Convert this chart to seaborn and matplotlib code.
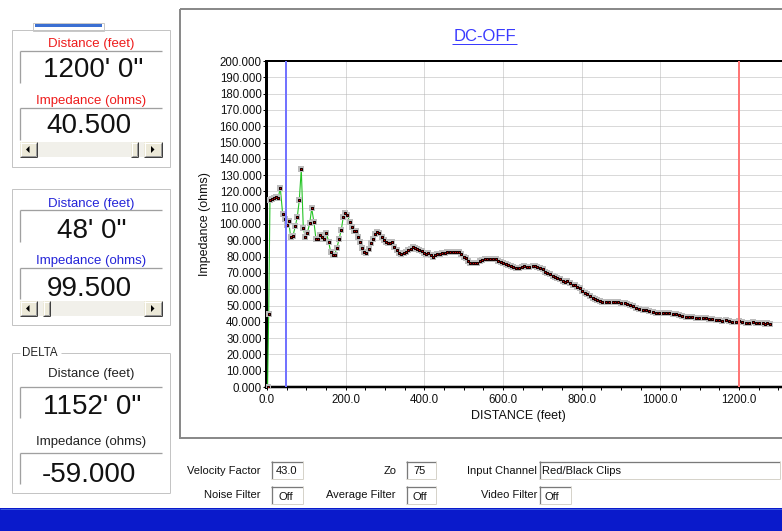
import matplotlib
matplotlib.use("Agg")
import matplotlib.pyplot as plt
import pandas as pd
import seaborn as sns
from matplotlib.patches import Rectangle, Polygon
from matplotlib.ticker import MultipleLocator

# ---------------- data ----------------
distance_ft = [
    1.5, 4.3, 7.6, 12.7, 17.8, 23.6, 28.7, 33.8, 39.9, 45.0, 50.1, 55.2, 60.3, 66.1, 72.0, 77.0,
    82.1, 87.2, 92.3, 97.4, 102.5, 108.6, 113.7, 119.5, 124.6, 129.7, 134.8, 140.6, 145.7, 150.8,
    156.9, 162.0, 167.0, 172.1, 178.0, 183.1, 189.0, 194.0, 199.1, 204.2, 210.3, 215.4, 220.4,
    225.5, 230.6, 236.5, 241.5, 246.6, 251.7,
    259, 264, 270, 275, 280, 285.5, 291.5, 297, 302, 308, 314, 319, 324, 331, 336, 342, 348, 353,
    359, 365, 370, 376, 382, 387, 393, 399, 404, 410, 416, 421, 427, 433, 439, 445, 452, 458, 465,
    472, 477.5, 483.5, 488.5, 494.5, 500, 505.5, 511, 517, 524, 530, 535, 541, 547, 553.5, 560,
    568, 575, 581.5, 587,
    594.5, 601, 608, 614, 620, 626.5, 633, 641.5, 647.5, 653.5, 660, 667, 675.5, 681, 687, 694,
    701, 707, 712.5, 719.5, 726, 732, 738, 745, 752, 758, 763, 770, 777, 783, 789, 796, 802, 808,
    814, 821, 828, 834, 840, 846, 853, 861.5, 870, 879, 884.5, 893, 901, 909.5, 916.5, 922.5,
    931.5, 938.5, 946.5, 955, 963.5, 972, 980.5, 989, 997.5, 1006, 1014.5, 1022.5, 1031.5, 1039.5,
    1048.5, 1056.5, 1065, 1073.5, 1081.5, 1090.5, 1098.5, 1107.5, 1115.5, 1124.5, 1132.5, 1141,
    1149.5, 1157.5, 1166.5, 1174.5, 1183.5, 1192, 1200, 1209, 1218, 1226, 1235, 1243, 1252,
    1260.5, 1266, 1272, 1279,
]
impedance_ohms = [
    0, 44.5, 114.7, 115.3, 115.7, 116.4, 116, 122.3, 106, 102.9, 99.5, 101.7, 92, 92.8, 98.6, 104.3,
    114.5, 133.7, 97.7, 92, 94.5, 100.4, 109.6, 101, 90.6, 90.6, 93.3, 92, 90.6, 94.5,
    89.1, 82.6, 81.2, 81.2, 85.5, 90.6, 96.5, 104.3, 106.5, 105.3, 101.4, 98.3, 95.9,
    95.9, 92, 88.8, 85.1, 83, 82.2,
    84.5, 88.2, 90.6, 93.7, 94.9, 94.3, 92.2, 90.2, 89.1, 88.2, 88.2, 88.8, 86, 84, 82.4, 81.6, 82, 83,
    84, 84.7, 85.7, 85.1, 84.5, 84, 83.6, 82, 81.4, 82, 81, 80, 81, 81.4, 81.4, 82, 82.4, 82.6, 82.6,
    82.6, 83, 83, 82.6, 81.4, 80, 79, 77.3, 76.3, 75.9, 75.9, 76.3, 77.3, 77.9, 78.3, 78.5,
    78.5, 78.5, 78.8, 77.6,
    76.9, 76.3, 75.5, 74.8, 74.2, 73.4, 73.2, 72.8, 73.4, 74.2, 73.6, 73.8, 74.4, 74.2, 73.4, 72.8,
    72.2, 70.7, 70.1, 69.1, 68.3, 67.3, 66.7, 66.1, 65, 64.2, 65.2, 63.6, 62.6, 62.6, 61.5, 60.6, 59.1, 57.9,
    56.9, 55.8, 54.8, 54, 53.4, 52.8, 52.3, 52.3, 52.3, 52.1, 52.3, 52, 51.7, 51.7, 50.9, 50.3,
    49.7, 48.7, 47.9, 47.2, 47.2, 46.8, 46.2, 45.6, 45.6, 45.2, 45.2, 45.2, 44.6, 44.6,
    44.2, 43.6, 43.1, 43.1, 43.1, 42.5, 42.5, 42.1, 42.1, 41.7, 41.5, 41.1,
    41.1, 40.7, 41.1, 40.5, 40.1, 40.1, 40.5, 39.7, 39.4, 39.4, 40.1, 39.4, 39.1,
    39.1, 38.7, 39.1, 38.7,
]
y_ticks = list(range(0, 201, 10))
x_ticks = [0, 200, 400, 600, 800, 1000, 1200]
cursor_blue_ft = 48
cursor_red_ft = 1200
chart_title = "DC-OFF"
x_label = "DISTANCE (feet)"
y_label = "Impedance (ohms)"

cursor1 = {"dist": "1200' 0\"", "imp": "40.500"}
cursor2 = {"dist": "48' 0\"", "imp": "99.500"}
delta = {"dist": "1152' 0\"", "imp": "-59.000"}

settings_row1 = [("Velocity Factor", "43.0"), ("Zo", "75"), ("Input Channel", "Red/Black Clips")]
settings_row2 = [("Noise Filter", "Off"), ("Average Filter", "Off"), ("Video Filter", "Off")]

# ---------------- figure setup ----------------
sns.set_theme(style="white")
plt.rcParams["font.family"] = ["Liberation Sans", "DejaVu Sans"]

W, H = 782, 531
P = 0.72  # points per pixel at dpi 100
fig = plt.figure(figsize=(W / 100, H / 100), dpi=100)
fig.patch.set_facecolor("white")

ui = fig.add_axes([0, 0, 1, 1])
ui.set_xlim(0, W)
ui.set_ylim(H, 0)
ui.axis("off")
ui.set_zorder(1)


def line(xs, ys, color, lw_px=1.0, z=2):
    ui.plot(xs, ys, color=color, lw=lw_px * P, solid_capstyle="butt", zorder=z)


def rect(x0, y0, x1, y1, fc="none", ec="none", lw_px=1.0, z=1):
    ui.add_patch(Rectangle((x0, y0), x1 - x0, y1 - y0, facecolor=fc, edgecolor=ec,
                           lw=lw_px * P, zorder=z))


def raised(x0, y0, x1, y1):
    rect(x0, y0, x1, y1, fc="#ece9d8")
    line([x0, x1], [y0 + 0.5, y0 + 0.5], "#ffffff")
    line([x0 + 0.5, x0 + 0.5], [y0, y1], "#ffffff")
    line([x0, x1], [y1 - 0.5, y1 - 0.5], "#404040")
    line([x1 - 0.5, x1 - 0.5], [y0, y1], "#404040")
    line([x0 + 1, x1 - 1], [y1 - 1.5, y1 - 1.5], "#9a9a9a")
    line([x1 - 1.5, x1 - 1.5], [y0 + 1, y1 - 1], "#9a9a9a")


def scrollbar(y0, y1, tx0, tx1):
    rect(20, y0, 162, y1, fc="#f1f0ea")
    raised(20, y0, 37, y1)
    raised(144, y0, 162, y1)
    raised(tx0, y0, tx1, y1)
    yc = (y0 + y1) / 2
    ui.add_patch(Polygon([(26, yc), (29.5, yc - 3.5), (29.5, yc + 3.5)], closed=True,
                         fc="black", ec="none", zorder=3))
    ui.add_patch(Polygon([(154.5, yc), (151, yc - 3.5), (151, yc + 3.5)], closed=True,
                         fc="black", ec="none", zorder=3))


def edit_box(y0, y1):
    line([20, 162], [y0, y0], "#a0a0a0", 1.3)
    line([20, 20], [y0, y1], "#a0a0a0", 1.3)


# ---------------- left panel ----------------
# tab indicator at the very top
rect(32.5, 22.5, 103.5, 31, ec="#c8c8c8")
rect(35, 24, 102, 27, fc="#3b6fd2")

small_fs = 9.5
big_fs = 20

# group 1 (red cursor)
rect(12, 30, 170, 167, ec="#c4c4c4")
ui.text(91, 47, "Distance (feet)", color="#ee1c1c", fontsize=small_fs, ha="center", va="baseline")
edit_box(51, 83)
ui.text(93, 77, cursor1["dist"], color="#111111", fontsize=big_fs, ha="center", va="baseline")
ui.text(91, 104, "Impedance (ohms)", color="#ee1c1c", fontsize=small_fs, ha="center", va="baseline")
edit_box(108, 140)
ui.text(89, 133, cursor1["imp"], color="#111111", fontsize=big_fs, ha="center", va="baseline")
scrollbar(142, 157, 131, 138)

# group 2 (blue cursor)
rect(12, 189, 170, 325, ec="#c4c4c4")
ui.text(91, 206.5, "Distance (feet)", color="#2424d8", fontsize=small_fs, ha="center", va="baseline")
edit_box(210, 242)
ui.text(92, 237.5, cursor2["dist"], color="#111111", fontsize=big_fs, ha="center", va="baseline")
ui.text(91, 264, "Impedance (ohms)", color="#2424d8", fontsize=small_fs, ha="center", va="baseline")
edit_box(268, 299)
ui.text(89, 296, cursor2["imp"], color="#111111", fontsize=big_fs, ha="center", va="baseline")
scrollbar(301, 316, 43, 50)

# group 3 (delta)
line([12, 20], [353, 353], "#c4c4c4")
line([61, 170], [353, 353], "#c4c4c4")
line([12, 12], [353, 493], "#c4c4c4")
line([170, 170], [353, 493], "#c4c4c4")
line([12, 170], [493, 493], "#c4c4c4")
ui.text(22, 356.5, "DELTA", color="#222222", fontsize=8.3, ha="left", va="baseline")
ui.text(91, 376.5, "Distance (feet)", color="#222222", fontsize=small_fs, ha="center", va="baseline")
edit_box(387, 418)
ui.text(92, 414, delta["dist"], color="#111111", fontsize=big_fs, ha="center", va="baseline")
ui.text(91, 444.5, "Impedance (ohms)", color="#222222", fontsize=small_fs, ha="center", va="baseline")
edit_box(453, 484)
ui.text(89, 481.5, delta["imp"], color="#111111", fontsize=big_fs, ha="center", va="baseline")

# ---------------- chart panel ----------------
rect(179.5, 9, 900, 438, ec="#8a8a8a", lw_px=2)
ui.text(484.5, 41, chart_title, color="#3b3bff", fontsize=12, ha="center", va="baseline")
line([452, 517], [43.5, 43.5], "#3b3bff", 1)

ax = fig.add_axes([266 / W, (H - 387) / H, (W - 266) / W, (387 - 61) / H])
ax.set_zorder(2)
ax.set_facecolor("white")

df = pd.DataFrame({"Distance": distance_ft, "Impedance": impedance_ohms})
sns.lineplot(data=df, x="Distance", y="Impedance", ax=ax, estimator=None, sort=False,
             color="#25c425", lw=1.1 * P, zorder=3)
sns.scatterplot(data=df, x="Distance", y="Impedance", ax=ax, marker="s", s=(5.2 * P) ** 2,
                color="#bcbcbc", linewidth=0, zorder=3.5, legend=False)
sns.scatterplot(data=df, x="Distance", y="Impedance", ax=ax, marker="s", s=(2.6 * P) ** 2,
                color="#cc0000", edgecolor="#150000", linewidth=1.0 * P, zorder=4, legend=False)

ax.axvline(cursor_blue_ft, color="#7373ff", lw=2 * P, zorder=5)
ax.axvline(cursor_red_ft, color="#ff7676", lw=2 * P, zorder=5)

ax.set_xlim(-2.5, 1309.5)
ax.set_ylim(0, 200)
ax.set_yticks(y_ticks)
ax.set_yticklabels([f"{v:.3f}" for v in y_ticks])
ax.set_xticks(x_ticks)
ax.set_xticklabels([f"{v:.1f}" for v in x_ticks])
ax.xaxis.set_minor_locator(MultipleLocator(50))
ax.grid(True, which="major", color="#b4b4b4", lw=1 * P, ls=(0, (1, 1)))
ax.set_axisbelow(True)
ax.tick_params(axis="both", which="both", direction="out", length=3 * P, width=1 * P,
               color="black", labelsize=8.3, labelcolor="#111111")
ax.tick_params(axis="y", which="both", left=True, pad=1)
ax.tick_params(axis="x", which="both", bottom=True, pad=3)

for side, w in (("left", 3), ("bottom", 2.5), ("top", 2)):
    ax.spines[side].set_visible(True)
    ax.spines[side].set_color("black")
    ax.spines[side].set_linewidth(w * P)
ax.spines["right"].set_visible(False)

ax.set_xlabel(x_label, fontsize=9, color="#111111")
ax.xaxis.set_label_coords((518 - 266) / (W - 266), (387 - 410) / (387 - 61))
ax.set_ylabel(y_label, fontsize=9, color="#111111")
ax.yaxis.set_label_coords((211 - 266) / (W - 266), 0.5)

# ---------------- bottom settings ----------------
ctrl_fs = 8
rows = [
    (settings_row1, 461, 479, 473.5,
     [(260.5, 271, 303, 287, "center"), (397, 406, 436, 419.5, "center"), (537, 539, 780, 542, "left")]),
    (settings_row2, 486, 504, 498.5,
     [(260.5, 271, 303, 286, "center"), (395, 406, 436, 420, "center"), (537, 539, 571, 552, "center")]),
]
for items, y0, y1, base, geo in rows:
    for (label, value), (lab_r, bx0, bx1, vx, ha) in zip(items, geo):
        ui.text(lab_r, base, label, color="#111111", fontsize=ctrl_fs, ha="right", va="baseline")
        rect(bx0, y0, bx1, y1, fc="white")
        line([bx0, bx1], [y0 + 0.5, y0 + 0.5], "#7a7a7a", 1.3)
        line([bx0 + 0.5, bx0 + 0.5], [y0, y1], "#7a7a7a", 1.3)
        line([bx0, bx1], [y1 - 0.5, y1 - 0.5], "#d6d3ca", 1)
        line([bx1 - 0.5, bx1 - 0.5], [y0, y1], "#d6d3ca", 1)
        ui.text(vx, base + 1, value, color="#111111", fontsize=ctrl_fs, ha=ha, va="baseline")

# blue status bar
rect(0, 508, W, H + 1, fc="#0a1acb", z=3)
line([0, W], [508.5, 508.5], "#3a58e0", 1, z=4)

fig.savefig("out.png", dpi=100)
